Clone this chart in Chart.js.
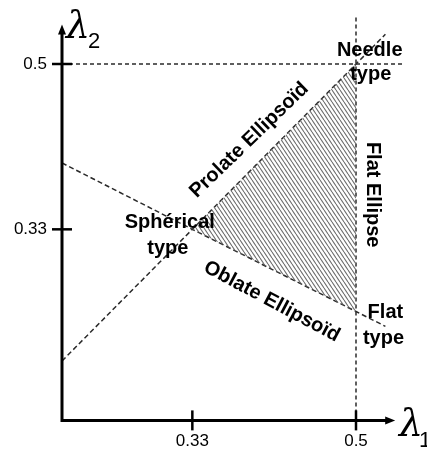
<!DOCTYPE html>
<html>
<head>
<meta charset="utf-8">
<script src="https://cdn.jsdelivr.net/npm/chart.js@4/dist/chart.umd.min.js"></script>
<style>
  html, body { margin: 0; padding: 0; background: #fff; }
  canvas { display: block; }
</style>
</head>
<body>
<canvas id="shapeChart" width="427" height="452" style="width:427px;height:452px"></canvas>
<script>
// boundary lines of the (lambda1, lambda2) diagram
const prolateX = [0.2, 0.333, 0.5, 0.53];
const prolateY = [0.2, 0.333, 0.5, 0.53];
const oblateX = [0.2, 0.333, 0.5, 0.53];
const oblateY = [0.4, 0.333, 0.25, 0.235];

// hatched admissible region (between the two edges)
const hatchX = [0.333, 0.5];
const hatchTopY = [0.333, 0.5];
const hatchBottomY = [0.333, 0.25];

// dashed guides at 0.5
const needleGuideX = [0.2, 0.55];
const needleGuideY = [0.5, 0.5];
const flatGuideX = [0.5, 0.5];
const flatGuideY = [0.14, 0.548];

// axis ticks
const xTicks = [0.333, 0.5];
const xTickLabels = ['0.33', '0.5'];
const yTicks = [0.5, 0.333];
const yTickLabels = ['0.5', '0.33'];

// region names
const regionNames = ['Needle', 'type', 'Prolate Ellipsoïd', 'Flat Ellipse', 'Sphérical', 'type', 'Oblate Ellipsoïd', 'Flat', 'type'];
const namePos = [
    [0.514, 0.514, 0], [0.515, 0.489, 0], [0.391, 0.423, -44], [0.517, 0.368, 90],
    [0.310, 0.340, 0], [0.308, 0.314, 0], [0.414, 0.260, 28], [0.530, 0.2495, 0], [0.528, 0.223, 0]
];

const pts = (xs, ys) => xs.map((x, i) => ({ x: x, y: ys[i] }));

function makeHatch() {
    let c = document.createElement('canvas');
    c.width = 4;
    c.height = 6;
    let g = c.getContext('2d');
    g.strokeStyle = '#6e6e6e';
    g.lineWidth = 1.1;
    [-4, 0, 4].forEach(off => {
        g.beginPath();
        g.moveTo(off, 0);
        g.lineTo(off + 4, 6);
        g.stroke();
    });
    return g.createPattern(c, 'repeat');
}

const hatch = makeHatch();

const dashed = (data, dash) => ({
    data: data,
    borderColor: '#2a2a2a',
    borderWidth: 1.5,
    borderDash: dash,
    pointRadius: 0,
    fill: false
});

const drawAxes = {
    id: 'drawAxes',
    afterDatasetsDraw(chart) {
        const ctx = chart.ctx;
        const xs = chart.scales.x, ys = chart.scales.y;
        const x0 = xs.getPixelForValue(0.2), y0 = ys.getPixelForValue(0.14);
        const xEnd = xs.getPixelForValue(0.54), yEnd = ys.getPixelForValue(0.54);
        ctx.save();
        ctx.strokeStyle = '#000';
        ctx.fillStyle = '#000';
        ctx.lineWidth = 3;
        ctx.beginPath();
        ctx.moveTo(x0, y0);
        ctx.lineTo(x0, yEnd + 6);
        ctx.moveTo(x0 - 1.5, y0);
        ctx.lineTo(xEnd - 6, y0);
        ctx.stroke();
        // arrow heads
        ctx.beginPath();
        ctx.moveTo(x0, yEnd);
        ctx.lineTo(x0 - 4, yEnd + 10);
        ctx.lineTo(x0 + 4, yEnd + 10);
        ctx.closePath();
        ctx.fill();
        ctx.beginPath();
        ctx.moveTo(xEnd, y0);
        ctx.lineTo(xEnd - 10, y0 - 4);
        ctx.lineTo(xEnd - 10, y0 + 4);
        ctx.closePath();
        ctx.fill();

        // ticks
        ctx.lineWidth = 2.5;
        ctx.font = '17px "Liberation Sans", Arial, sans-serif';
        ctx.textBaseline = 'middle';
        xTicks.forEach((v, i) => {
            const px = xs.getPixelForValue(v);
            ctx.beginPath();
            ctx.moveTo(px, y0 - 10);
            ctx.lineTo(px, y0 + 10);
            ctx.stroke();
            ctx.textAlign = 'center';
            ctx.fillText(xTickLabels[i], px, y0 + 21);
        });
        yTicks.forEach((v, i) => {
            const py = ys.getPixelForValue(v);
            ctx.beginPath();
            ctx.moveTo(x0 - 10, py);
            ctx.lineTo(x0 + 10, py);
            ctx.stroke();
            ctx.textAlign = 'right';
            ctx.fillText(yTickLabels[i], x0 - 15, py);
        });

        // axis titles
        ctx.textAlign = 'left';
        ctx.textBaseline = 'alphabetic';
        ctx.font = 'italic 38px "DejaVu Serif", serif';
        ctx.fillText('λ', 66, 38);
        ctx.fillText('λ', 399, 436);
        ctx.font = '22px "Liberation Sans", Arial, sans-serif';
        ctx.fillText('2', 88, 48);
        ctx.fillText('1', 419, 447);

        // region names
        ctx.font = 'bold 20px "Liberation Sans", Arial, sans-serif';
        ctx.textAlign = 'center';
        ctx.textBaseline = 'middle';
        regionNames.forEach((t, i) => {
            const p = namePos[i];
            ctx.save();
            ctx.translate(xs.getPixelForValue(p[0]), ys.getPixelForValue(p[1]));
            ctx.rotate(p[2] * Math.PI / 180);
            ctx.fillText(t, 0, 0);
            ctx.restore();
        });
        ctx.restore();
    }
};

window.onload = () => {
    let ctx = document.getElementById('shapeChart').getContext('2d');
    new Chart(ctx, {
        type: 'line',
        data: {
            datasets: [
                {
                    data: pts(hatchX, hatchTopY),
                    borderColor: 'rgba(0,0,0,0)',
                    backgroundColor: hatch,
                    pointRadius: 0,
                    fill: '+1'
                },
                {
                    data: pts(hatchX, hatchBottomY),
                    borderColor: 'rgba(0,0,0,0)',
                    pointRadius: 0,
                    fill: false
                },
                dashed(pts(prolateX, prolateY), [5, 3]),
                dashed(pts(oblateX, oblateY), [5, 3]),
                dashed(pts(needleGuideX, needleGuideY), [4, 3]),
                dashed(pts(flatGuideX, flatGuideY), [4, 3])
            ]
        },
        options: {
            responsive: false,
            animation: false,
            layout: { padding: { left: 62, right: 12.2, top: 4.6, bottom: 31.6 } },
            scales: {
                x: { type: 'linear', min: 0.2, max: 0.56, display: false },
                y: { type: 'linear', min: 0.14, max: 0.56, display: false }
            },
            plugins: {
                legend: { display: false },
                tooltip: { enabled: false }
            }
        },
        plugins: [drawAxes]
    });
};
</script>
</body>
</html>
